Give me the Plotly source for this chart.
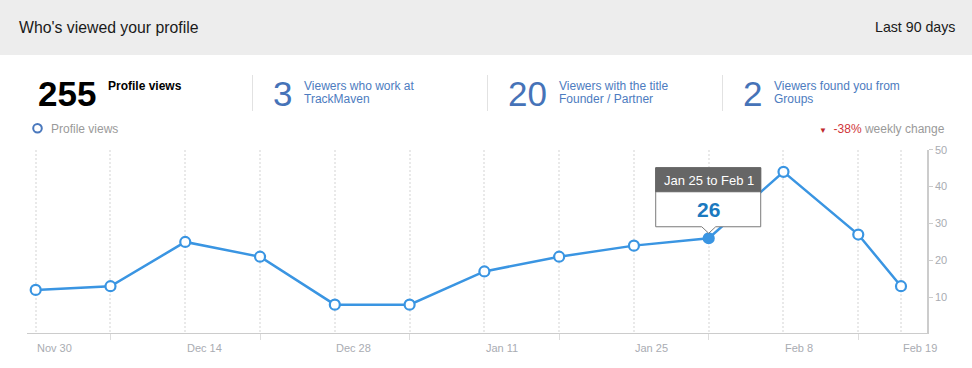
import plotly.graph_objects as go
import pandas as pd

# ---------------- data ----------------
week_dates = ["2014-11-30", "2014-12-07", "2014-12-14", "2014-12-21", "2014-12-28",
              "2015-01-04", "2015-01-11", "2015-01-18", "2015-01-25", "2015-02-01",
              "2015-02-08", "2015-02-15", "2015-02-19"]
profile_views = [12, 13, 25, 21, 8, 8, 17, 21, 24, 26, 44, 27, 13]
label_dates = ["2014-11-30", "2014-12-14", "2014-12-28", "2015-01-11",
               "2015-01-25", "2015-02-08", "2015-02-19"]
label_texts = ["Nov 30", "Dec 14", "Dec 28", "Jan 11", "Jan 25", "Feb 8", "Feb 19"]
y_ticks = [10, 20, 30, 40, 50]
highlight_date = "2015-02-01"
tooltip_title = "Jan 25 to Feb 1"

header_title = "Who's viewed your profile"
header_period = "Last 90 days"
stat_numbers = ["255", "3", "20", "2"]
stat_line1 = ["Profile views", "Viewers who work at", "Viewers with the title", "Viewers found you from"]
stat_line2 = ["", "TrackMaven", "Founder / Partner", "Groups"]
legend_label = "Profile views"
weekly_change = "-38%"
weekly_change_label = "weekly change"

# ---------------- styling ----------------
W, H = 972, 368
FONT = "Arial, 'Liberation Sans', sans-serif"
LINE_BLUE = "#3a95e2"
STAT_BLUE = "#4673b8"
TEXT_BLUE = "#4d7cc0"
GRID = "#e9e9e9"
AXIS = "#cccccc"
TICKTXT = "#a9acb2"


def px(x):
    return x / W


def py(y):
    return 1 - y / H


plot_left, plot_right = 27, 927.3
plot_top, plot_bottom = 149.7, 332.7

hi_idx = week_dates.index(highlight_date)
marker_fill = [LINE_BLUE if i == hi_idx else "white" for i in range(len(week_dates))]

fig = go.Figure()
fig.add_trace(go.Scatter(
    x=week_dates, y=profile_views, mode="lines+markers",
    line=dict(color=LINE_BLUE, width=2.5),
    marker=dict(size=10, color=marker_fill, line=dict(color=LINE_BLUE, width=2.2)),
    hoverinfo="skip", showlegend=False,
))

# x range so that first/last week land where they are in the picture
d0 = pd.Timestamp(week_dates[0])
d1 = pd.Timestamp(week_dates[-1])
first_px, last_px = 35.7, 901.0
px_per_day = (last_px - first_px) / ((d1 - d0).days)
x_start = d0 - pd.Timedelta(days=(first_px - plot_left) / px_per_day)
x_end = d0 + pd.Timedelta(days=(plot_right - first_px) / px_per_day)

minor_dates = [d for d in week_dates if d not in label_dates]

fig.update_xaxes(
    domain=[px(plot_left), px(plot_right)],
    range=[x_start, x_end], automargin=False,
    tickmode="array", tickvals=label_dates, showticklabels=False,
    ticks="", showgrid=True, gridcolor=GRID, griddash="2px,2px", gridwidth=2,
    showline=True, linecolor=AXIS, linewidth=1.5, zeroline=False,
    minor=dict(tickmode="array", tickvals=minor_dates, ticks="outside", ticklen=6,
               tickcolor="#dddddd", tickwidth=1, showgrid=True, gridcolor=GRID,
               griddash="2px,2px", gridwidth=2),
    fixedrange=True,
)

fig.update_yaxes(
    domain=[py(plot_bottom), py(plot_top)],
    range=[0.4, 50], side="right", automargin=False,
    tickmode="array", tickvals=y_ticks, ticks="outside", ticklen=4,
    tickcolor=AXIS, tickfont=dict(size=11, color=TICKTXT, family=FONT),
    showgrid=False, zeroline=False, showline=True, linecolor=AXIS, linewidth=1.5,
    fixedrange=True,
)

shapes = []
annotations = []

# header band
shapes.append(dict(type="rect", xref="paper", yref="paper", x0=0, x1=1, y0=py(55), y1=1,
                   fillcolor="#ededed", line=dict(width=0), layer="below"))
annotations.append(dict(xref="paper", yref="paper", x=px(16.5), y=py(27.5), text=header_title,
                        xanchor="left", yanchor="middle", showarrow=False,
                        font=dict(size=15.8, color="#1a1a1a", family=FONT)))
annotations.append(dict(xref="paper", yref="paper", x=px(956.5), y=py(27.5), text=header_period,
                        xanchor="right", yanchor="middle", showarrow=False,
                        font=dict(size=14.2, color="#1a1a1a", family=FONT)))

# stats row
num_x = [36, 271, 506, 741]
txt_x = [106, 302, 557, 772]
for i in range(4):
    is_first = i == 0
    annotations.append(dict(
        xref="paper", yref="paper", x=px(num_x[i]), y=py(93.5), xanchor="left", yanchor="middle",
        showarrow=False,
        text=("<b>%s</b>" % stat_numbers[i]) if is_first else stat_numbers[i],
        font=dict(size=35, color="#000000" if is_first else STAT_BLUE, family=FONT)))
    annotations.append(dict(
        xref="paper", yref="paper", x=px(txt_x[i]), y=py(86), xanchor="left", yanchor="middle",
        showarrow=False,
        text=("<b>%s</b>" % stat_line1[i]) if is_first else stat_line1[i],
        font=dict(size=12, color="#000000" if is_first else TEXT_BLUE, family=FONT)))
    if stat_line2[i]:
        annotations.append(dict(
            xref="paper", yref="paper", x=px(txt_x[i]), y=py(99.5), xanchor="left", yanchor="middle",
            showarrow=False, text=stat_line2[i],
            font=dict(size=12, color=TEXT_BLUE, family=FONT)))
for sx in [252.5, 487.5, 722.5]:
    shapes.append(dict(type="line", xref="paper", yref="paper", x0=px(sx), x1=px(sx),
                       y0=py(75), y1=py(111), line=dict(color="#e2e2e2", width=1)))

# legend row
shapes.append(dict(type="circle", xref="paper", yref="paper",
                   x0=px(33.2), x1=px(41.8), y0=py(132.6), y1=py(124),
                   line=dict(color="#4a78bd", width=2), fillcolor="white"))
annotations.append(dict(xref="paper", yref="paper", x=px(49), y=py(128.5), text=legend_label,
                        xanchor="left", yanchor="middle", showarrow=False,
                        font=dict(size=12, color="#9a9a9a", family=FONT)))
annotations.append(dict(
    xref="paper", yref="paper", x=px(946.5), y=py(128.5), xanchor="right", yanchor="middle",
    showarrow=False,
    text=('<span style="font-size:8px;color:#c0282d">▼</span>  '
          '<span style="color:#d0353a">%s</span> %s' % (weekly_change, weekly_change_label)),
    font=dict(size=12, color="#9a9a9a", family=FONT)))

# x tick labels (left-aligned at their gridline)
for d, t in zip(label_dates, label_texts):
    annotations.append(dict(xref="x", yref="paper", x=d, y=py(347.5), text=t,
                            xanchor="left", yanchor="middle", showarrow=False, xshift=-0.5,
                            font=dict(size=11, color=TICKTXT, family=FONT)))

# tooltip anchored on the highlighted point
hv = profile_views[hi_idx]
shapes.append(dict(type="path", xref="x", yref="y", xsizemode="pixel", ysizemode="pixel",
                   xanchor=highlight_date, yanchor=hv,
                   path="M-53,70.5 L52,70.5 L52,11.5 L7,11.5 L0,5 L-7,11.5 L-53,11.5 Z",
                   fillcolor="white", line=dict(color="#7a7a7a", width=1)))
shapes.append(dict(type="path", xref="x", yref="y", xsizemode="pixel", ysizemode="pixel",
                   xanchor=highlight_date, yanchor=hv,
                   path="M-53,70.5 L52,70.5 L52,46.5 L-53,46.5 Z",
                   fillcolor="#666666", line=dict(color="#666666", width=1)))
annotations.append(dict(xref="x", yref="y", x=highlight_date, y=hv, yshift=57.5,
                        text=tooltip_title, showarrow=False, xanchor="center", yanchor="middle",
                        font=dict(size=13, color="white", family=FONT)))
annotations.append(dict(xref="x", yref="y", x=highlight_date, y=hv, yshift=28.5,
                        text="<b>%d</b>" % hv, showarrow=False, xanchor="center", yanchor="middle",
                        font=dict(size=21, color="#1b79bf", family=FONT)))

fig.update_layout(
    width=W, height=H, margin=dict(l=0, r=0, t=0, b=0, pad=0, autoexpand=False),
    paper_bgcolor="white", plot_bgcolor="white",
    shapes=shapes, annotations=annotations,
    font=dict(family=FONT), showlegend=False, hovermode=False,
)

fig.write_html(
    "out.html",
    config={"displayModeBar": False, "staticPlot": True},
    post_script="document.body.style.margin='0';document.body.style.padding='0';"
                "document.body.style.overflow='hidden';"
                "var gd=document.getElementById('{plot_id}');"
                "gd.style.position='absolute';gd.style.top='0px';gd.style.left='0px';",
)
